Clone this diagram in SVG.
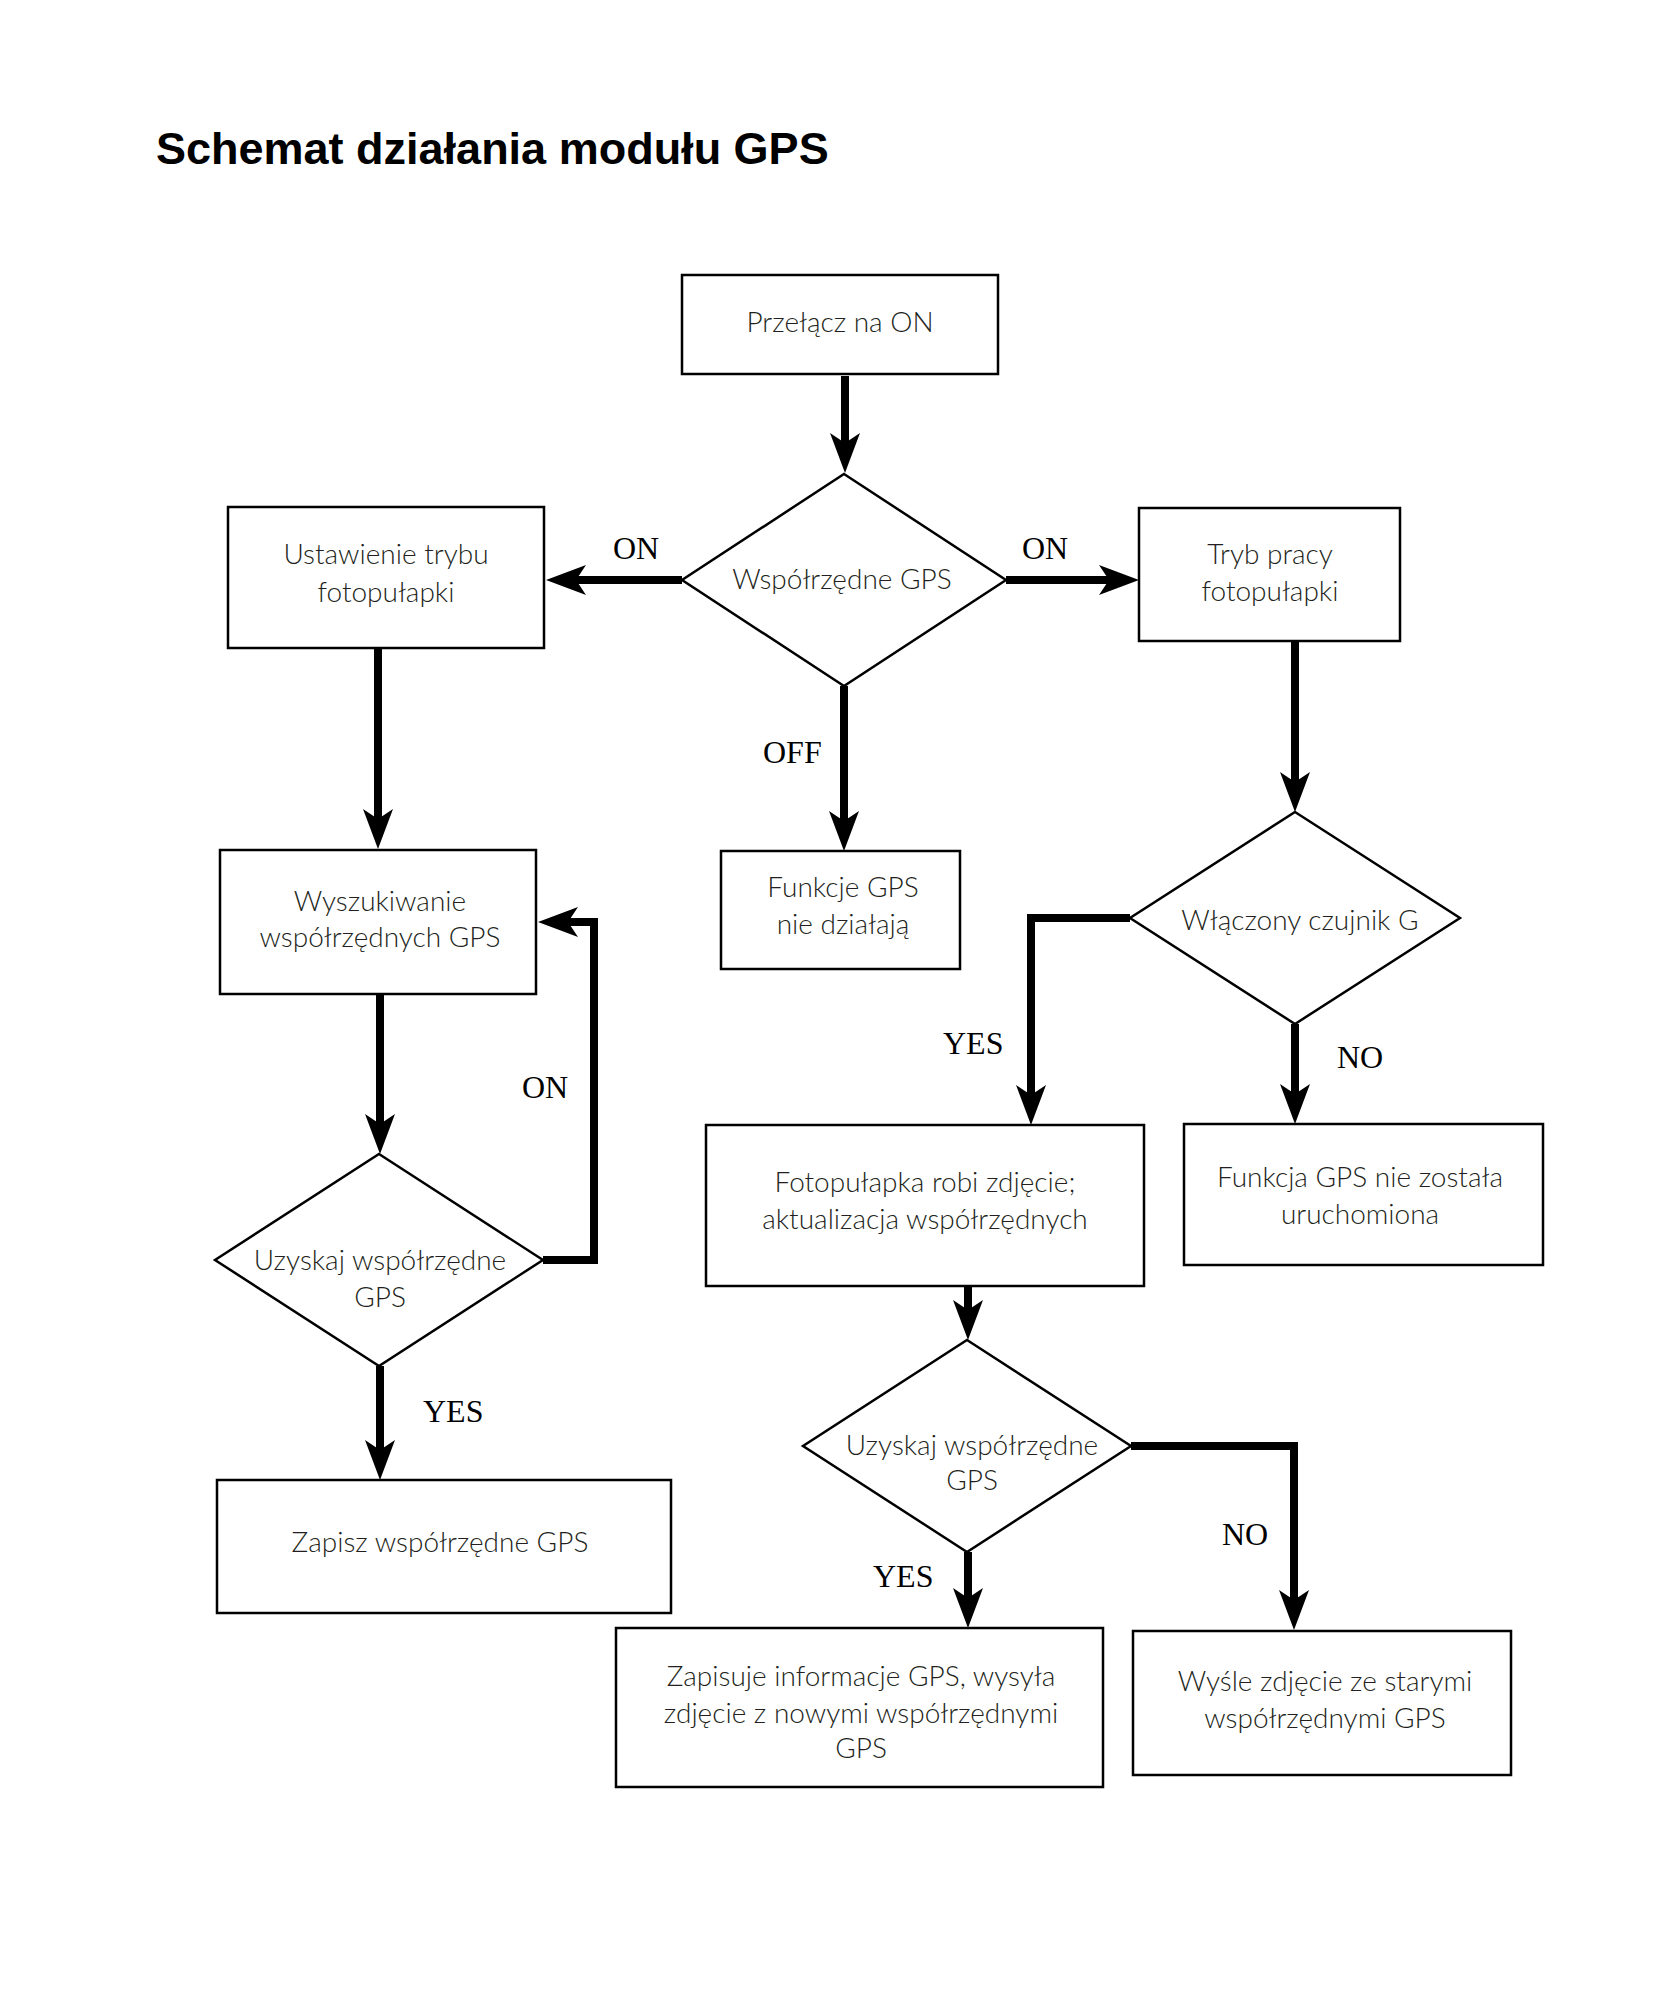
<svg xmlns="http://www.w3.org/2000/svg" width="1680" height="2000" viewBox="0 0 1680 2000">
<defs>
<style>
.box{fill:#fff;stroke:#000;stroke-width:2.5}
.dia{fill:#fff;stroke:#000;stroke-width:2.5;stroke-linejoin:miter}
.con{fill:none;stroke:#000;stroke-width:8;stroke-linejoin:miter}
.t{font-family:Lato,"Open Sans","Liberation Sans",sans-serif;font-weight:300;font-size:28px;fill:#231f20;text-anchor:middle}
.lbl{font-family:"Liberation Serif","Times New Roman",serif;font-size:32px;fill:#000}
.title{font-family:"Liberation Sans",Arial,sans-serif;font-weight:bold;font-size:45px;fill:#000}
</style>
<marker id="ah" markerUnits="userSpaceOnUse" viewBox="0 -16 40 32" markerWidth="40" markerHeight="32" refX="10" refY="0" orient="auto">
<path d="M0,-15 L40,0 L0,15 L10,0 Z" fill="#000"/>
</marker>
</defs>
<rect width="1680" height="2000" fill="#fff"/>
<text class="title" x="156" y="164">Schemat działania modułu GPS</text>

<g id="connectors">
<path class="con" d="M845,376 V443" marker-end="url(#ah)"/>
<path class="con" d="M682,580 H576" marker-end="url(#ah)"/>
<path class="con" d="M1006,580 H1109" marker-end="url(#ah)"/>
<path class="con" d="M844,686 V821" marker-end="url(#ah)"/>
<path class="con" d="M378,648 V819" marker-end="url(#ah)"/>
<path class="con" d="M1295,641 V782" marker-end="url(#ah)"/>
<path class="con" d="M380,994 V1124" marker-end="url(#ah)"/>
<path class="con" d="M543,1260 H594 V922 H568" marker-end="url(#ah)"/>
<path class="con" d="M380,1366 V1450" marker-end="url(#ah)"/>
<path class="con" d="M1130,918 H1031 V1095" marker-end="url(#ah)"/>
<path class="con" d="M1295,1024 V1094" marker-end="url(#ah)"/>
<path class="con" d="M968,1286 V1310" marker-end="url(#ah)"/>
<path class="con" d="M968,1552 V1598" marker-end="url(#ah)"/>
<path class="con" d="M1131,1446 H1294 V1600" marker-end="url(#ah)"/>
<text class="lbl" x="613" y="559">ON</text>
<text class="lbl" x="1022" y="559">ON</text>
<text class="lbl" x="763" y="763">OFF</text>
<text class="lbl" x="522" y="1098">ON</text>
<text class="lbl" x="423" y="1422">YES</text>
<text class="lbl" x="943" y="1054">YES</text>
<text class="lbl" x="1337" y="1068">NO</text>
<text class="lbl" x="1222" y="1545">NO</text>
<text class="lbl" x="873" y="1587">YES</text>
</g>

<g id="n-start">
<rect class="box" x="682" y="275" width="316" height="99"/>
<text class="t" x="840" y="332">Przełącz na ON</text>
</g>
<g id="n-gps">
<polygon class="dia" points="844,474 1006,580 844,686 682,580"/>
<text class="t" x="842" y="589">Współrzędne GPS</text>
</g>
<g id="n-ustawienie">
<rect class="box" x="228" y="507" width="316" height="141"/>
<text class="t" x="386" y="564">Ustawienie trybu</text>
<text class="t" x="386" y="602">fotopułapki</text>
</g>
<g id="n-tryb">
<rect class="box" x="1139" y="508" width="261" height="133"/>
<text class="t" x="1270" y="564">Tryb pracy</text>
<text class="t" x="1270" y="601">fotopułapki</text>
</g>
<g id="n-funkcje">
<rect class="box" x="721" y="851" width="239" height="118"/>
<text class="t" x="843" y="897">Funkcje GPS</text>
<text class="t" x="843" y="934">nie działają</text>
</g>
<g id="n-wyszukiwanie">
<rect class="box" x="220" y="850" width="316" height="144"/>
<text class="t" x="380" y="911">Wyszukiwanie</text>
<text class="t" x="380" y="947">współrzędnych GPS</text>
</g>
<g id="n-czujnik">
<polygon class="dia" points="1295,812 1460,918 1295,1024 1130,918"/>
<text class="t" x="1300" y="930">Włączony czujnik G</text>
</g>
<g id="n-uzyskaj1">
<polygon class="dia" points="379,1154 543,1260 379,1366 215,1260"/>
<text class="t" x="380" y="1270">Uzyskaj współrzędne</text>
<text class="t" x="380" y="1307">GPS</text>
</g>
<g id="n-foto">
<rect class="box" x="706" y="1125" width="438" height="161"/>
<text class="t" x="925" y="1192">Fotopułapka robi zdjęcie;</text>
<text class="t" x="925" y="1229">aktualizacja współrzędnych</text>
</g>
<g id="n-nieuruchomiona">
<rect class="box" x="1184" y="1124" width="359" height="141"/>
<text class="t" x="1360" y="1187">Funkcja GPS nie została</text>
<text class="t" x="1360" y="1224">uruchomiona</text>
</g>
<g id="n-zapisz">
<rect class="box" x="217" y="1480" width="454" height="133"/>
<text class="t" x="440" y="1552">Zapisz współrzędne GPS</text>
</g>
<g id="n-uzyskaj2">
<polygon class="dia" points="967,1340 1131,1446 967,1552 803,1446"/>
<text class="t" x="972" y="1455">Uzyskaj współrzędne</text>
<text class="t" x="972" y="1490">GPS</text>
</g>
<g id="n-zapisuje">
<rect class="box" x="616" y="1628" width="487" height="159"/>
<text class="t" x="861" y="1686">Zapisuje informacje GPS, wysyła</text>
<text class="t" x="861" y="1723">zdjęcie z nowymi współrzędnymi</text>
<text class="t" x="861" y="1758">GPS</text>
</g>
<g id="n-wysle">
<rect class="box" x="1133" y="1631" width="378" height="144"/>
<text class="t" x="1325" y="1691">Wyśle zdjęcie ze starymi</text>
<text class="t" x="1325" y="1728">współrzędnymi GPS</text>
</g>
</svg>
